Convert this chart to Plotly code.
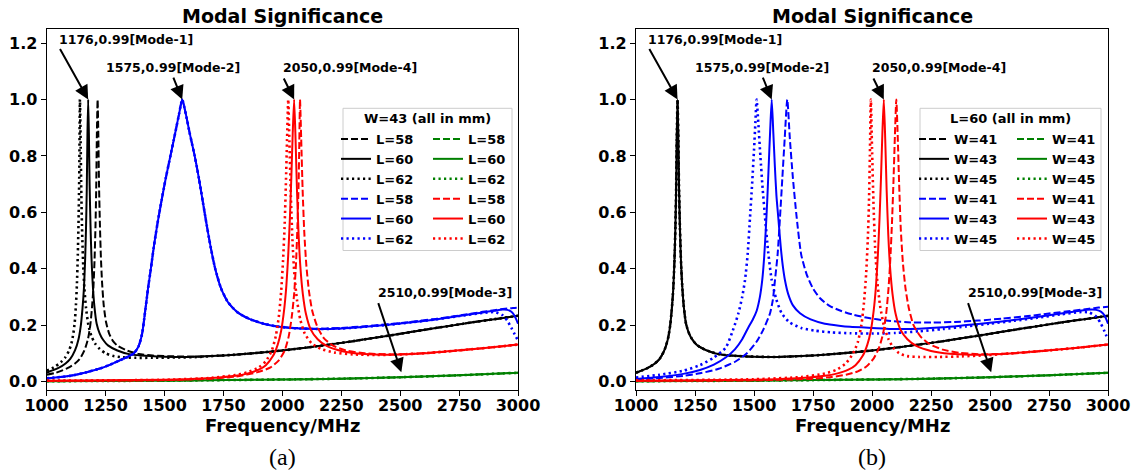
import plotly.graph_objects as go

# ---------------- data: modal significance vs frequency (MHz) ----------------
# Mode-1 (black)
F_M1_L60 = [1000, 1050, 1080, 1100, 1120, 1135, 1145, 1152, 1158, 1163, 1167, 1170, 1173, 1176,
            1179, 1182, 1186, 1190, 1195, 1202, 1212, 1225, 1240, 1260, 1300, 1350, 1400, 1500,
            1600, 1700, 1800, 1900, 2000, 2100, 2200, 2300, 2400, 2500, 2600, 2700, 2800, 2900, 3000]
MS_M1_L60 = [0.031, 0.048, 0.064, 0.08, 0.11, 0.15, 0.2, 0.26, 0.33, 0.43, 0.55, 0.68, 0.88, 1.0,
             0.88, 0.7, 0.55, 0.44, 0.35, 0.27, 0.205, 0.17, 0.147, 0.128, 0.11, 0.097, 0.092, 0.088,
             0.087, 0.09, 0.095, 0.102, 0.11, 0.12, 0.131, 0.143, 0.156, 0.169, 0.183, 0.196, 0.209, 0.221, 0.233]

F_M1_L62 = [1000, 1030, 1060, 1080, 1095, 1105, 1113, 1119, 1124, 1128, 1132, 1135, 1138, 1141,
            1144, 1147, 1151, 1155, 1160, 1167, 1177, 1190, 1205, 1225, 1250, 1280, 1320, 1380,
            1450, 1550, 1650, 1700, 1800, 1900, 2000, 2100, 2200, 2300, 2400, 2500, 2600, 2700, 2800, 2900, 3000]
MS_M1_L62 = [0.038, 0.05, 0.068, 0.087, 0.11, 0.135, 0.17, 0.21, 0.27, 0.34, 0.45, 0.56, 0.72, 1.0,
             0.85, 0.66, 0.51, 0.41, 0.33, 0.26, 0.2, 0.16, 0.135, 0.115, 0.1, 0.091, 0.086, 0.084,
             0.084, 0.085, 0.087, 0.09, 0.095, 0.102, 0.11, 0.12, 0.131, 0.143, 0.156, 0.169, 0.183, 0.196, 0.209, 0.221, 0.233]

F_M1_L58 = [1000, 1040, 1090, 1120, 1140, 1160, 1175, 1185, 1192, 1198, 1203, 1207, 1210, 1213, 1216,
            1219, 1222, 1226, 1230, 1235, 1242, 1252, 1265, 1280, 1300, 1340, 1390, 1450, 1550, 1650,
            1700, 1800, 1900, 2000, 2100, 2200, 2300, 2400, 2500, 2600, 2700, 2800, 2900, 3000]
MS_M1_L58 = [0.024, 0.031, 0.048, 0.064, 0.08, 0.11, 0.15, 0.2, 0.26, 0.33, 0.43, 0.55, 0.68, 0.88, 1.0,
             0.88, 0.7, 0.55, 0.44, 0.35, 0.27, 0.21, 0.17, 0.145, 0.127, 0.11, 0.098, 0.092, 0.089, 0.088,
             0.09, 0.095, 0.102, 0.11, 0.12, 0.131, 0.143, 0.156, 0.169, 0.183, 0.196, 0.209, 0.221, 0.233]

# Mode-2 (blue), W = 43 mm with L varied
F_M2 = [1000, 1100, 1170, 1230, 1270, 1310, 1340, 1370, 1390, 1405, 1418, 1430, 1442, 1455, 1470,
        1487, 1505, 1525, 1545, 1562, 1575, 1590, 1607, 1628, 1646, 1662, 1678, 1695, 1715, 1740,
        1770, 1810, 1860, 1920, 1980, 2050, 2150, 2250, 2350, 2450, 2550, 2650, 2750, 2850,
        2900, 2935, 2955, 2972, 2986, 3000]
MS_M2_L60 = [0.011, 0.02, 0.033, 0.047, 0.06, 0.075, 0.086, 0.1, 0.125, 0.17, 0.25, 0.33, 0.4, 0.48,
             0.56, 0.64, 0.72, 0.8, 0.88, 0.95, 1.0, 0.95, 0.88, 0.8, 0.72, 0.64, 0.56, 0.48, 0.4, 0.33,
             0.28, 0.245, 0.222, 0.205, 0.195, 0.189, 0.186, 0.188, 0.194, 0.201, 0.21, 0.22, 0.232,
             0.245, 0.251, 0.255, 0.254, 0.247, 0.232, 0.205]
MS_M2_L58 = [0.011, 0.02, 0.033, 0.047, 0.06, 0.075, 0.086, 0.1, 0.125, 0.17, 0.25, 0.33, 0.4, 0.48,
             0.56, 0.64, 0.72, 0.8, 0.88, 0.95, 1.0, 0.95, 0.88, 0.8, 0.72, 0.64, 0.56, 0.48, 0.4, 0.33,
             0.28, 0.245, 0.222, 0.205, 0.195, 0.19, 0.187, 0.19, 0.196, 0.203, 0.212, 0.222, 0.234,
             0.247, 0.253, 0.257, 0.259, 0.26, 0.261, 0.262]
MS_M2_L62 = [0.011, 0.02, 0.033, 0.047, 0.06, 0.075, 0.086, 0.1, 0.125, 0.17, 0.25, 0.33, 0.4, 0.48,
             0.56, 0.64, 0.72, 0.8, 0.88, 0.95, 1.0, 0.95, 0.88, 0.8, 0.72, 0.64, 0.56, 0.48, 0.4, 0.33,
             0.28, 0.245, 0.222, 0.205, 0.195, 0.189, 0.186, 0.188, 0.194, 0.201, 0.21, 0.22, 0.232,
             0.243, 0.246, 0.235, 0.215, 0.19, 0.167, 0.145]

# Mode-2 (blue), L = 60 mm with W varied
F_M2_W43 = [1000, 1100, 1200, 1271, 1330, 1380, 1420, 1450, 1475, 1495, 1511, 1525, 1535, 1543, 1550,
            1556, 1562, 1568, 1575, 1582, 1588, 1595, 1603, 1613, 1622, 1631, 1645, 1665, 1695, 1740,
            1800, 1860, 1907, 2000, 2100, 2200, 2300, 2400, 2500, 2600, 2700, 2800, 2880, 2930,
            2950, 2970, 2985, 3000]
MS_M2_W43 = [0.009, 0.016, 0.027, 0.041, 0.06, 0.085, 0.115, 0.15, 0.19, 0.22, 0.25, 0.3, 0.36, 0.44,
             0.54, 0.64, 0.76, 0.88, 1.0, 0.88, 0.77, 0.66, 0.58, 0.48, 0.41, 0.36, 0.31, 0.27, 0.242,
             0.22, 0.205, 0.198, 0.194, 0.19, 0.186, 0.187, 0.192, 0.2, 0.208, 0.218, 0.229, 0.241,
             0.251, 0.255, 0.254, 0.248, 0.235, 0.205]
F_M2_W45 = [1000, 1100, 1200, 1271, 1330, 1380, 1410, 1434, 1450, 1462, 1473, 1483, 1492, 1500, 1506,
            1511, 1518, 1527, 1537, 1547, 1560, 1575, 1595, 1617, 1650, 1700, 1760, 1830, 1907, 2000,
            2100, 2200, 2300, 2400, 2500, 2600, 2700, 2800, 2880, 2920, 2950, 2970, 2985, 3000]
MS_M2_W45 = [0.014, 0.024, 0.038, 0.058, 0.085, 0.12, 0.18, 0.242, 0.3, 0.36, 0.45, 0.58, 0.7, 0.82,
             0.92, 1.0, 0.92, 0.8, 0.68, 0.58, 0.46, 0.36, 0.29, 0.242, 0.21, 0.19, 0.18, 0.174, 0.171,
             0.17, 0.172, 0.178, 0.186, 0.195, 0.205, 0.215, 0.226, 0.238, 0.246, 0.245, 0.23, 0.205,
             0.178, 0.148]
F_M2_W41 = [1000, 1100, 1200, 1271, 1350, 1420, 1470, 1510, 1540, 1568, 1580, 1589, 1600, 1610, 1620,
            1630, 1641, 1652, 1665, 1681, 1700, 1723, 1750, 1780, 1820, 1870, 1920, 1980, 2060, 2150,
            2250, 2350, 2450, 2550, 2650, 2750, 2850, 2920, 2960, 3000]
MS_M2_W41 = [0.007, 0.012, 0.02, 0.029, 0.045, 0.07, 0.1, 0.14, 0.185, 0.242, 0.29, 0.36, 0.45, 0.58,
             0.72, 0.86, 1.0, 0.86, 0.72, 0.58, 0.45, 0.38, 0.33, 0.295, 0.268, 0.25, 0.237, 0.226,
             0.216, 0.21, 0.209, 0.211, 0.216, 0.223, 0.231, 0.241, 0.251, 0.258, 0.262, 0.265]

# Mode-3 (green)
F_M3 = [1000, 1250, 1500, 1750, 2000, 2250, 2500, 2750, 3000]
MS_M3 = [0.001, 0.002, 0.003, 0.005, 0.007, 0.01, 0.015, 0.022, 0.031]

# Mode-4 (red)
F_M4_L60 = [1000, 1250, 1500, 1600, 1700, 1800, 1850, 1900, 1930, 1960, 1980, 1995, 2007, 2017, 2025,
            2032, 2038, 2044, 2050, 2056, 2062, 2069, 2077, 2087, 2100, 2120, 2150, 2190, 2250, 2330,
            2420, 2500, 2600, 2700, 2800, 2900, 3000]
MS_M4_L60 = [0.003, 0.004, 0.006, 0.008, 0.012, 0.02, 0.028, 0.042, 0.058, 0.09, 0.13, 0.18, 0.25, 0.34,
             0.45, 0.58, 0.72, 0.88, 1.0, 0.86, 0.68, 0.52, 0.4, 0.31, 0.24, 0.185, 0.15, 0.125, 0.108,
             0.098, 0.095, 0.096, 0.1, 0.107, 0.114, 0.122, 0.131]
F_M4_L62 = [1000, 1500, 1700, 1800, 1850, 1900, 1930, 1955, 1972, 1985, 1995, 2003, 2010, 2015, 2020,
            2025, 2030, 2036, 2043, 2051, 2062, 2076, 2095, 2125, 2165, 2220, 2300, 2400, 2500, 2600,
            2700, 2800, 2900, 3000]
MS_M4_L62 = [0.003, 0.006, 0.013, 0.023, 0.032, 0.05, 0.072, 0.11, 0.16, 0.23, 0.32, 0.43, 0.56, 0.7,
             0.86, 1.0, 0.85, 0.66, 0.5, 0.38, 0.29, 0.22, 0.17, 0.135, 0.115, 0.103, 0.096, 0.094, 0.096,
             0.1, 0.107, 0.114, 0.122, 0.131]
F_M4_L58 = [1000, 1500, 1700, 1800, 1900, 1950, 1985, 2010, 2027, 2040, 2050, 2058, 2064, 2069, 2072,
            2075, 2080, 2086, 2093, 2102, 2113, 2127, 2148, 2175, 2215, 2270, 2350, 2450, 2550, 2650,
            2750, 2850, 3000]
MS_M4_L58 = [0.002, 0.005, 0.01, 0.017, 0.034, 0.05, 0.075, 0.11, 0.16, 0.23, 0.31, 0.42, 0.55, 0.7,
             0.85, 1.0, 0.86, 0.68, 0.53, 0.41, 0.32, 0.25, 0.195, 0.155, 0.127, 0.11, 0.1, 0.096, 0.098,
             0.103, 0.11, 0.118, 0.131]
F_M4_W45 = [1000, 1500, 1700, 1800, 1850, 1890, 1920, 1940, 1955, 1966, 1975, 1982, 1987, 1991, 1995,
            2000, 2006, 2013, 2022, 2034, 2050, 2070, 2090, 2115, 2150, 2200, 2280, 2380, 2480, 2580,
            2700, 2800, 2900, 3000]
MS_M4_W45 = [0.004, 0.008, 0.016, 0.028, 0.042, 0.065, 0.1, 0.14, 0.2, 0.28, 0.38, 0.5, 0.63, 0.8, 1.0,
             0.83, 0.64, 0.48, 0.36, 0.27, 0.2, 0.15, 0.12, 0.1, 0.09, 0.087, 0.087, 0.089, 0.093, 0.099,
             0.107, 0.114, 0.122, 0.131]
F_M4_W41 = [1000, 1500, 1750, 1830, 1890, 1940, 1975, 2008, 2030, 2047, 2060, 2070, 2078, 2085, 2091,
            2097, 2103, 2109, 2115, 2122, 2131, 2142, 2156, 2176, 2205, 2245, 2300, 2370, 2450, 2550,
            2650, 2750, 2850, 3000]
MS_M4_W41 = [0.002, 0.004, 0.01, 0.016, 0.024, 0.036, 0.052, 0.083, 0.12, 0.17, 0.24, 0.33, 0.44, 0.57,
             0.71, 0.87, 1.0, 0.87, 0.7, 0.54, 0.42, 0.33, 0.26, 0.2, 0.16, 0.132, 0.113, 0.102, 0.097,
             0.098, 0.103, 0.11, 0.118, 0.131]

X_TICKS = [1000, 1250, 1500, 1750, 2000, 2250, 2500, 2750, 3000]
Y_TICKS = [0.0, 0.2, 0.4, 0.6, 0.8, 1.0, 1.2]

# ---------------- figure ----------------
W, H = 1138, 473
FONT = "DejaVu Sans"
DASH = {"--": "7px,3px", "-": "solid", ":": "2.2px,3.3px"}
LW = {"--": 2, "-": 2, ":": 2.6}

fig = go.Figure()


def add(panel, f, v, color, style, name, legend, rank):
    fig.add_trace(go.Scatter(
        x=f, y=v, mode="lines", name=name,
        xaxis="x" if panel == "a" else "x2", yaxis="y" if panel == "a" else "y2",
        line=dict(color=color, width=LW[style], dash=DASH[style], shape="spline", smoothing=0.6),
        legend=legend, legendrank=rank, showlegend=True))


# panel (a): W = 43 mm, L varied
add("a", F_M1_L58, MS_M1_L58, "black", "--", "L=58", "legend", 1)
add("a", F_M1_L60, MS_M1_L60, "black", "-", "L=60", "legend", 2)
add("a", F_M1_L62, MS_M1_L62, "black", ":", "L=62", "legend", 3)
add("a", F_M2, MS_M2_L58, "blue", "--", "L=58", "legend", 4)
add("a", F_M2, MS_M2_L60, "blue", "-", "L=60", "legend", 5)
add("a", F_M2, MS_M2_L62, "blue", ":", "L=62", "legend", 6)
add("a", F_M3, MS_M3, "green", "--", "L=58", "legend2", 1)
add("a", F_M3, MS_M3, "green", "-", "L=60", "legend2", 2)
add("a", F_M3, MS_M3, "green", ":", "L=62", "legend2", 3)
add("a", F_M4_L58, MS_M4_L58, "red", "--", "L=58", "legend2", 4)
add("a", F_M4_L60, MS_M4_L60, "red", "-", "L=60", "legend2", 5)
add("a", F_M4_L62, MS_M4_L62, "red", ":", "L=62", "legend2", 6)

# panel (b): L = 60 mm, W varied
add("b", F_M1_L60, MS_M1_L60, "black", "--", "W=41", "legend3", 1)
add("b", F_M1_L60, MS_M1_L60, "black", "-", "W=43", "legend3", 2)
add("b", F_M1_L60, MS_M1_L60, "black", ":", "W=45", "legend3", 3)
add("b", F_M2_W41, MS_M2_W41, "blue", "--", "W=41", "legend3", 4)
add("b", F_M2_W43, MS_M2_W43, "blue", "-", "W=43", "legend3", 5)
add("b", F_M2_W45, MS_M2_W45, "blue", ":", "W=45", "legend3", 6)
add("b", F_M3, MS_M3, "green", "--", "W=41", "legend4", 1)
add("b", F_M3, MS_M3, "green", "-", "W=43", "legend4", 2)
add("b", F_M3, MS_M3, "green", ":", "W=45", "legend4", 3)
add("b", F_M4_W41, MS_M4_W41, "red", "--", "W=41", "legend4", 4)
add("b", F_M4_L60, MS_M4_L60, "red", "-", "W=43", "legend4", 5)
add("b", F_M4_W45, MS_M4_W45, "red", ":", "W=45", "legend4", 6)

# plot-area geometry in pixels
AX = {"a": (46.7, 518.0), "b": (636.0, 1108.0)}
TOP, BOT = 29.0, 389.5


def px(x):
    return x / W


def py(y):
    return 1 - y / H


axis_common = dict(showline=True, mirror=True, linecolor="black", linewidth=1.2, ticks="outside",
                   ticklen=5, tickwidth=1.2, tickcolor="black", showgrid=False, zeroline=False,
                   automargin=False,
                   tickfont=dict(family=FONT, size=16, color="black", weight="bold"))
xaxis_common = dict(range=[1000, 3000], tickvals=X_TICKS, ticklabelstandoff=-4, **axis_common)
yaxis_common = dict(domain=[py(BOT), py(TOP)], range=[-0.0284, 1.25], tickvals=Y_TICKS,
                    tickformat=".1f", **axis_common)
fig.update_layout(
    width=W, height=H, margin=dict(l=0, r=0, t=0, b=0, autoexpand=False),
    paper_bgcolor="white", plot_bgcolor="white",
    xaxis=dict(domain=[px(AX["a"][0]), px(AX["a"][1])], anchor="y", **xaxis_common),
    yaxis=dict(anchor="x", **yaxis_common),
    xaxis2=dict(domain=[px(AX["b"][0]), px(AX["b"][1])], anchor="y2", **xaxis_common),
    yaxis2=dict(anchor="x2", **yaxis_common),
)

leg_font = dict(family=FONT, size=13, color="black", weight="bold")
legend_style = dict(font=leg_font, bgcolor="rgba(0,0,0,0)", borderwidth=0, tracegroupgap=0,
                    itemwidth=30, yanchor="top", xanchor="left", traceorder="normal")
fig.update_layout(
    legend=dict(x=px(336), y=py(124), **legend_style),
    legend2=dict(x=px(428), y=py(124), **legend_style),
    legend3=dict(x=px(914), y=py(124), **legend_style),
    legend4=dict(x=px(1012), y=py(124), **legend_style),
)

# legend frames and titles
for (x0, x1), title in [((343, 512), "W=43 (all in mm)"), ((920, 1101), "L=60 (all in mm)")]:
    fig.add_shape(type="rect", xref="paper", yref="paper", x0=px(x0), x1=px(x1), y0=py(250.5),
                  y1=py(108.3), line=dict(color="#cccccc", width=1), fillcolor="rgba(255,255,255,0.8)",
                  layer="below")
    fig.add_annotation(text=title, xref="paper", yref="paper", x=px((x0 + x1) / 2), y=py(118.5),
                       showarrow=False, font=leg_font, xanchor="center", yanchor="middle")

# titles, axis titles, panel labels
for key, lab in [("a", "(a)"), ("b", "(b)")]:
    cx = px(sum(AX[key]) / 2)
    fig.add_annotation(text="Modal Significance", xref="paper", yref="paper", x=cx, y=py(16),
                       showarrow=False, xanchor="center", yanchor="middle",
                       font=dict(family=FONT, size=19, color="black", weight="bold"))
    fig.add_annotation(text="Frequency/MHz", xref="paper", yref="paper", x=cx, y=py(425),
                       showarrow=False, xanchor="center", yanchor="middle",
                       font=dict(family=FONT, size=18, color="black", weight="bold"))
    fig.add_annotation(text=lab, xref="paper", yref="paper", x=cx, y=py(457),
                       showarrow=False, xanchor="center", yanchor="middle",
                       font=dict(family="Liberation Serif", size=24, color="black"))

# peak annotations with arrows (data coordinates)
MARKS = [
    ("1176,0.99[Mode-1]", 1336, 1.213, 1053, 1.184, 1176, 1.0),
    ("1575,0.99[Mode-2]", 1535, 1.112, 1535, 1.083, 1575, 1.0),
    ("2050,0.99[Mode-4]", 2285, 1.112, 2003, 1.080, 2050, 1.0),
    ("2510,0.99[Mode-3]", 2690, 0.316, 2405, 0.283, 2505, 0.033),
]
for xr, yr in [("x", "y"), ("x2", "y2")]:
    for text, tx, ty, ax, ay, hx, hy in MARKS:
        fig.add_annotation(text=text, x=tx, y=ty, xref=xr, yref=yr, showarrow=False,
                           xanchor="center", yanchor="middle",
                           font=dict(family=FONT, size=12.5, color="black", weight="bold"))
        fig.add_annotation(text="", x=hx, y=hy, xref=xr, yref=yr, ax=ax, ay=ay, axref=xr, ayref=yr,
                           showarrow=True, arrowhead=2, arrowsize=1.4, arrowwidth=2,
                           arrowcolor="black", standoff=0, startstandoff=0)

fig.write_html("out.html")
